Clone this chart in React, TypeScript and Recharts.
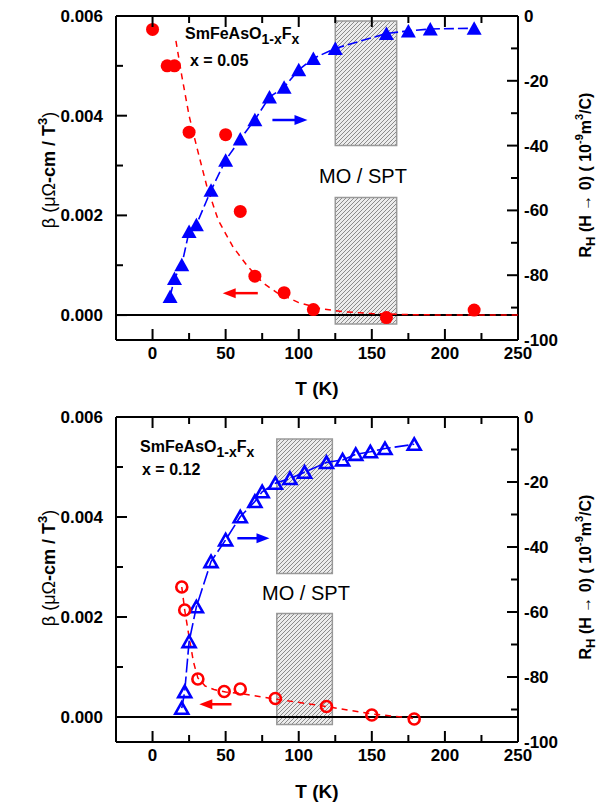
import React from 'react';
import { ComposedChart, Scatter, XAxis, YAxis, ReferenceArea, ReferenceLine } from 'recharts';

const FONT = '"Liberation Sans", Arial, Helvetica, sans-serif';
const RED = '#ff0000';
const BLUE = '#0000ff';

// shared axes
const xTicks = [0, 25, 50, 75, 100, 125, 150, 175, 200, 225, 250];
const betaTicks = [0, 0.001, 0.002, 0.003, 0.004, 0.005, 0.006];
const rhTicks = [-100, -90, -80, -70, -60, -50, -40, -30, -20, -10, 0];

// x = 0.05
const betaT05 = [0, 10, 15, 25, 50, 60, 70, 90, 110, 160, 220];
const beta05 = [0.00573, 0.005, 0.005, 0.00367, 0.00362, 0.00208, 0.00078, 0.00045, 0.00011, -0.00005, 0.0001];
const fitT05 = [16, 20, 25, 30, 37, 45, 55, 65, 75, 85, 100, 115, 130, 150, 175, 200, 250];
const fit05 = [0.0055, 0.0048, 0.004, 0.0034, 0.0026, 0.0019, 0.00137, 0.00098, 0.00066, 0.00045, 0.00025, 0.00013, 0.00007, 0.00003, 0.00001, 0, 0];
const rhT05 = [12, 15, 20, 25, 30, 40, 50, 60, 70, 80, 90, 100, 110, 125, 160, 175, 190, 220];
const rh05 = [-86.6, -81, -76.8, -66.5, -64.4, -53.8, -44.5, -38, -32, -25, -22, -16.6, -13.1, -10, -5.4, -4.6, -4, -3.8];

// x = 0.12
const betaT12 = [20, 22, 31, 49, 60, 84, 119, 150, 179];
const beta12 = [0.0026, 0.00214, 0.00076, 0.00051, 0.00056, 0.00037, 0.00021, 0.00004, -0.00004];
const fitT12 = [20, 22, 25, 28, 31, 36, 42, 50, 60, 84, 119, 150, 180];
const fit12 = [0.0026, 0.00214, 0.0016, 0.0011, 0.00078, 0.00062, 0.00055, 0.0005, 0.00047, 0.00036, 0.00021, 0.00006, -0.00003];
const rhT12 = [20, 22, 25, 30, 40, 50, 60, 70, 75, 84, 94, 104, 119, 130, 139, 149, 159, 179];
const rh12 = [-89.6, -84.5, -69.1, -58.4, -44.5, -37.8, -30.7, -26, -23, -20.4, -18.9, -17, -14, -13.2, -11.5, -10.7, -9.7, -8.4];

const pts = (xs: number[], ys: number[]) => xs.map((x, i) => ({ x, y: ys[i] }));

const BottomTick = (p: any) => {
  const { x, y, payload } = p;
  const v = payload.value;
  const major = v % 50 === 0;
  return (
    <g>
      <line x1={x} y1={y} x2={x} y2={y - (major ? 11 : 7)} stroke="#000" strokeWidth={2} />
      {major && (
        <text x={x} y={y + 19} textAnchor="middle" fontFamily={FONT} fontWeight="bold" fontSize={17} fill="#000">
          {v}
        </text>
      )}
    </g>
  );
};

const TopTick = (p: any) => {
  const { x, y, payload } = p;
  const major = payload.value % 50 === 0;
  return <line x1={x} y1={y} x2={x} y2={y + (major ? 11 : 7)} stroke="#000" strokeWidth={2} />;
};

const LeftTick = (p: any) => {
  const { x, y, payload } = p;
  const v = payload.value;
  const major = Math.round(v * 10000) % 20 === 0;
  return (
    <g>
      <line x1={x} y1={y} x2={x + (major ? 11 : 7)} y2={y} stroke="#000" strokeWidth={2} />
      {major && (
        <text x={x - 13} y={y + 6} textAnchor="end" fontFamily={FONT} fontWeight="bold" fontSize={17} fill="#000">
          {v.toFixed(3)}
        </text>
      )}
    </g>
  );
};

const RightTick = (p: any) => {
  const { x, y, payload } = p;
  const v = payload.value;
  const major = v % 20 === 0;
  return (
    <g>
      <line x1={x} y1={y} x2={x - (major ? 11 : 7)} y2={y} stroke="#000" strokeWidth={2} />
      {major && (
        <text x={x + 6} y={y + 6} textAnchor="start" fontFamily={FONT} fontWeight="bold" fontSize={17} fill="#000">
          {v}
        </text>
      )}
    </g>
  );
};

const arrowShape = (color: string) => (p: any) => {
  const { x1, y1, x2, y2 } = p;
  const d = Math.sign(x2 - x1);
  return (
    <g>
      <line x1={x1} y1={y1} x2={x2 - d * 9} y2={y2} stroke={color} strokeWidth={2.5} />
      <polygon points={`${x2},${y2} ${x2 - d * 13},${y2 - 5} ${x2 - d * 13},${y2 + 5}`} fill={color} />
    </g>
  );
};

const filledCircle = (p: any) => <circle cx={p.cx} cy={p.cy} r={6.5} fill={RED} />;
const openCircle = (p: any) => <circle cx={p.cx} cy={p.cy} r={5.5} fill="none" stroke={RED} strokeWidth={2.6} />;
const filledTri = (p: any) => (
  <polygon points={`${p.cx},${p.cy - 7} ${p.cx - 7.5},${p.cy + 6.5} ${p.cx + 7.5},${p.cy + 6.5}`} fill={BLUE} />
);
const openTri = (p: any) => (
  <polygon
    points={`${p.cx},${p.cy - 6} ${p.cx - 6.5},${p.cy + 5.5} ${p.cx + 6.5},${p.cy + 5.5}`}
    fill="none"
    stroke={BLUE}
    strokeWidth={2.6}
    strokeLinejoin="miter"
  />
);
const noDot = () => <g />;

function Panel(props: any) {
  const { height, topH, bottomH, pid, betaData, fitData, rhData, open, hx, hUp, hLow, blueArrow, redArrow, dose, lab } = props;
  return (
    <ComposedChart width={600} height={height} margin={{ top: 0, right: 0, bottom: 0, left: 0 }}>
      <defs>
        <pattern id={`hatch${pid}`} patternUnits="userSpaceOnUse" width={4} height={4}>
          <rect width={4} height={4} fill="rgba(150,150,150,0.18)" />
          <path d="M-1,1 l2,-2 M0,4 l4,-4 M3,5 l2,-2" stroke="#808080" strokeWidth={0.9} />
        </pattern>
      </defs>
      <XAxis xAxisId="b" dataKey="x" type="number" domain={[-25, 250]} allowDataOverflow ticks={xTicks} interval={0}
        tick={BottomTick} tickLine={false} tickSize={0} tickMargin={0} height={bottomH}
        axisLine={{ stroke: '#000', strokeWidth: 2 }} />
      <XAxis xAxisId="t" orientation="top" dataKey="x" type="number" domain={[-25, 250]} allowDataOverflow ticks={xTicks} interval={0}
        tick={TopTick} tickLine={false} tickSize={0} tickMargin={0} height={topH}
        axisLine={{ stroke: '#000', strokeWidth: 2 }} />
      <YAxis yAxisId="L" dataKey="y" type="number" domain={[-0.0005, 0.006]} allowDataOverflow ticks={betaTicks} interval={0}
        tick={LeftTick} tickLine={false} tickSize={0} tickMargin={0} width={116}
        axisLine={{ stroke: '#000', strokeWidth: 2 }} />
      <YAxis yAxisId="R" orientation="right" dataKey="y" type="number" domain={[-100, 0]} allowDataOverflow ticks={rhTicks} interval={0}
        tick={RightTick} tickLine={false} tickSize={0} tickMargin={0} width={82}
        axisLine={{ stroke: '#000', strokeWidth: 2 }} />

      <ReferenceLine xAxisId="b" yAxisId="L" y={0} stroke="#000" strokeWidth={2} />

      <Scatter xAxisId="b" yAxisId="L" data={fitData} shape={noDot} isAnimationActive={false}
        line={{ stroke: RED, strokeWidth: 1.5, strokeDasharray: '6 5' }} />
      <Scatter xAxisId="b" yAxisId="R" data={rhData} shape={open ? openTri : filledTri} isAnimationActive={false}
        line={{ stroke: BLUE, strokeWidth: 1.6, strokeDasharray: open ? '14 4' : '10 4' }} />
      <Scatter xAxisId="b" yAxisId="L" data={betaData} shape={open ? openCircle : filledCircle} isAnimationActive={false} />

      <ReferenceArea xAxisId="b" yAxisId="L" x1={hx[0]} x2={hx[1]} y1={hUp[0]} y2={hUp[1]}
        fill={`url(#hatch${pid})`} fillOpacity={1} stroke="#999" strokeWidth={1.5} />
      <ReferenceArea xAxisId="b" yAxisId="L" x1={hx[0]} x2={hx[1]} y1={hLow[0]} y2={hLow[1]}
        fill={`url(#hatch${pid})`} fillOpacity={1} stroke="#999" strokeWidth={1.5} />

      <ReferenceLine xAxisId="b" yAxisId="R" segment={blueArrow} shape={arrowShape(BLUE)} ifOverflow="visible" />
      <ReferenceLine xAxisId="b" yAxisId="L" segment={redArrow} shape={arrowShape(RED)} ifOverflow="visible" />

      <text x={lab.name[0]} y={lab.name[1]} fontFamily={FONT} fontWeight="bold" fontSize={16} fill="#000">
        SmFeAsO<tspan dy={5} fontSize={14}>1-x</tspan><tspan dy={-5}>F</tspan><tspan dy={5} fontSize={14}>x</tspan>
      </text>
      <text x={lab.dose[0]} y={lab.dose[1]} fontFamily={FONT} fontWeight="bold" fontSize={16} fill="#000">
        x = {dose}
      </text>
      <text x={lab.mo[0]} y={lab.mo[1]} textAnchor="middle" fontFamily={FONT} fontSize={20} fill="#000">
        MO / SPT
      </text>
      <text x={317} y={lab.t} textAnchor="middle" fontFamily={FONT} fontWeight="bold" fontSize={19} fill="#000">
        T (K)
      </text>
      <text transform={`translate(49,${lab.beta}) rotate(-90)`} textAnchor="middle" dominantBaseline="central"
        fontFamily={FONT} fontSize={18} fill="#000">
        β (μΩ<tspan fontWeight="bold">-cm / T</tspan><tspan fontWeight="bold" fontSize={13} dy={-7}>3</tspan><tspan dy={7}>)</tspan>
      </text>
      <text transform={`translate(585,${lab.rh}) rotate(-90)`} textAnchor="middle" dominantBaseline="central"
        fontFamily={FONT} fontWeight="bold" fontSize={16} fill="#000">
        R<tspan dy={5} fontSize={13}>H</tspan><tspan dy={-5}> (H → 0) ( 10</tspan><tspan dy={-6} fontSize={11}>-9</tspan>
        <tspan dy={6}>m</tspan><tspan dy={-6} fontSize={11}>3</tspan><tspan dy={6}>/C)</tspan>
      </text>
    </ComposedChart>
  );
}

export default function App() {
  return (
    <div style={{ position: 'absolute', left: 0, top: 0, width: 600, height: 803, background: '#fff' }}>
      <Panel
        height={400} topH={16} bottomH={60} pid="a"
        betaData={pts(betaT05, beta05)} fitData={pts(fitT05, fit05)} rhData={pts(rhT05, rh05)} open={false}
        hx={[125, 167]} hUp={[0.0034, 0.0059]} hLow={[-0.00018, 0.00236]}
        blueArrow={[{ x: 82, y: -32.1 }, { x: 106, y: -32.1 }]}
        redArrow={[{ x: 72, y: 0.00044 }, { x: 48, y: 0.00044 }]}
        dose="0.05"
        lab={{ name: [185, 39], dose: [190, 66], mo: [363, 183], t: 395, beta: 170, rh: 175 }}
      />
      <Panel
        height={403} topH={17} bottomH={61} pid="b"
        betaData={pts(betaT12, beta12)} fitData={pts(fitT12, fit12)} rhData={pts(rhT12, rh12)} open={true}
        hx={[85, 123]} hUp={[0.00287, 0.00556]} hLow={[-0.00015, 0.00207]}
        blueArrow={[{ x: 58, y: -37.3 }, { x: 80, y: -37.3 }]}
        redArrow={[{ x: 54, y: 0.000255 }, { x: 32, y: 0.000255 }]}
        dose="0.12"
        lab={{ name: [140, 52], dose: [142, 75], mo: [306, 200], t: 398, beta: 168, rh: 177 }}
      />
    </div>
  );
}
